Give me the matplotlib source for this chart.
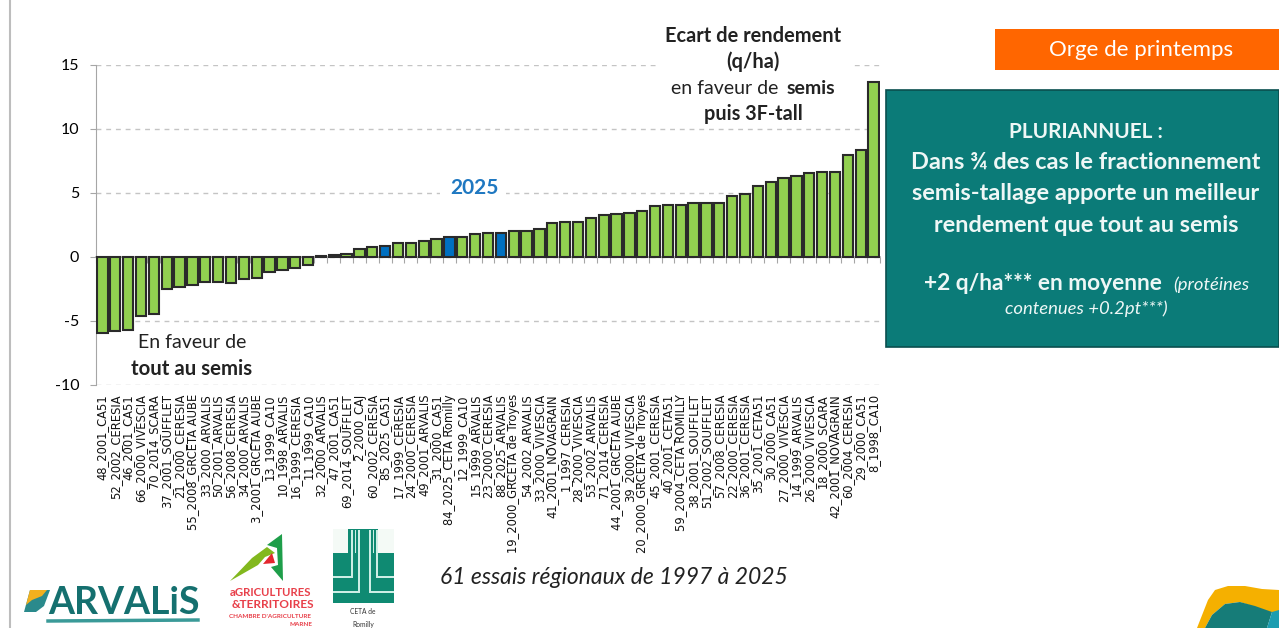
import matplotlib
matplotlib.use("Agg")
import matplotlib.pyplot as plt
from matplotlib.patches import Polygon, Rectangle

W, H = 1279, 628

labels = ["48_2001_CA51", "52_2002_CERESIA", "46_2001_CA51", "66_2000_VIVESCIA", "70_2014_SCARA",
          "37_2001_SOUFFLET", "21_2000_CERESIA", "55_2008_GRCETA AUBE", "33_2000_ARVALIS", "50_2001_ARVALIS",
          "56_2008_CERESIA", "34_2000_ARVALIS", "3_2001_GRCETA AUBE", "13_1999_CA10", "10_1998_ARVALIS",
          "16_1999_CERESIA", "11_1999_CA10", "32_2000_ARVALIS", "47_2001_CA51", "69_2014_SOUFFLET",
          "2_2000_CAJ", "60_2002_CERESIA", "85_2025_CA51", "17_1999_CERESIA", "24_2000_CERESIA",
          "49_2001_ARVALIS", "31_2000_CA51", "84_2025_CETA Romilly", "12_1999_CA10", "15_1999_ARVALIS",
          "23_2000_CERESIA", "88_2025_ARVALIS", "19_2000_GRCETA de Troyes", "54_2002_ARVALIS", "33_2000_VIVESCIA",
          "41_2001_NOVAGRAIN", "1_1997_CERESIA", "28_2000_VIVESCIA", "53_2002_ARVALIS", "71_2014_CERESIA",
          "44_2001_GRCETA AUBE", "39_2000_VIVESCIA", "20_2000_GRCETA de Troyes", "45_2001_CERESIA", "40_2001_CETA51",
          "59_2004_CETA ROMILLY", "38_2001_SOUFFLET", "51_2002_SOUFFLET", "57_2008_CERESIA", "22_2000_CERESIA",
          "36_2001_CERESIA", "35_2001_CETA51", "30_2000_CA51", "27_2000_VIVESCIA", "14_1999_ARVALIS",
          "26_2000_VIVESCIA", "18_2000_SCARA", "42_2001_NOVAGRAIN", "60_2004_CERESIA", "29_2000_CA51",
          "8_1998_CA10"]
values = [-5.9, -5.8, -5.7, -4.6, -4.45, -2.5, -2.35, -2.2, -1.95, -1.95,
          -2.0, -1.7, -1.65, -1.2, -1.05, -0.85, -0.65, 0.1, 0.15, 0.2,
          0.65, 0.8, 0.85, 1.1, 1.1, 1.28, 1.38, 1.55, 1.55, 1.8,
          1.85, 1.9, 2.03, 2.05, 2.16, 2.66, 2.76, 2.76, 3.07, 3.25,
          3.33, 3.46, 3.6, 3.98, 4.06, 4.06, 4.2, 4.2, 4.2, 4.74,
          4.9, 5.57, 5.86, 6.15, 6.33, 6.54, 6.67, 6.67, 7.94, 8.36,
          13.67]
highlight = ["85_2025_CA51", "84_2025_CETA Romilly", "88_2025_ARVALIS"]
yticks = [-10, -5, 0, 5, 10, 15]

plt.rcParams["font.family"] = ["Lato", "DejaVu Sans"]
plt.rcParams["axes.unicode_minus"] = False
fig = plt.figure(figsize=(W / 100, H / 100), dpi=100)

# overlay in pixel coordinates for the slide furniture
bg = fig.add_axes([0, 0, 1, 1], zorder=0)
bg.set_xlim(0, W); bg.set_ylim(H, 0); bg.axis("off")
bg.plot([10, 10], [0, H], color="#bdbdbd", lw=1.5)

ax = fig.add_axes([96 / W, 1 - 385 / H, 784 / W, 320 / H], zorder=1)
ax.patch.set_alpha(0)
colors = ["#0070C0" if l in highlight else "#92D050" for l in labels]
ax.bar(range(len(values)), values, width=0.8, color=colors, edgecolor="#2a2a2a", linewidth=1.5, zorder=3)
ax.set_xlim(-0.5, len(values) - 0.5)
ax.set_ylim(-10, 15)
ax.set_yticks(yticks)
ax.tick_params(axis="y", length=4, color="#a6a6a6", labelsize=11.5, pad=8)
ax.grid(axis="y", color="#c4c4c4", linestyle=(0, (3.5, 3.5)), linewidth=1, zorder=0)
ax.set_axisbelow(True)
for s in ("top", "right"):
    ax.spines[s].set_visible(False)
ax.spines["left"].set_color("#a6a6a6")
ax.spines["bottom"].set_position(("data", 0))
ax.spines["bottom"].set_color("#a6a6a6")
ax.spines["bottom"].set_linewidth(1.2)
ax.set_xticks([i - 0.5 for i in range(len(values) + 1)])
ax.tick_params(axis="x", length=4, color="#a6a6a6", labelbottom=False)
for i, l in enumerate(labels):
    ax.annotate(l, (i, -10), xytext=(0, -9), textcoords="offset pixels", rotation=90, ha="center", va="top",
                fontsize=8.3, family="DejaVu Sans", color="#111111", annotation_clip=False)

# annotations, white boxes hide the gridlines like in the slide
over = fig.add_axes([0, 0, 1, 1], zorder=2)
over.set_xlim(0, W); over.set_ylim(H, 0); over.axis("off")
over.add_patch(Rectangle((656, 25), 196, 103, color="white", lw=0))
over.add_patch(Rectangle((440, 170), 66, 40, color="white", lw=0))
over.text(753, 36, "Ecart de rendement", ha="center", va="center", fontsize=14.4, weight="bold", color="#222222")
over.text(753, 62, "(q/ha)", ha="center", va="center", fontsize=14.4, weight="bold", color="#222222")
over.text(725, 88, "en faveur de", ha="center", va="center", fontsize=14, color="#222222")
over.text(811, 88, "semis", ha="center", va="center", fontsize=14, weight="bold", color="#222222")
over.text(753, 114, "puis 3F-tall", ha="center", va="center", fontsize=14.2, weight="bold", color="#222222")
over.text(474, 188, "2025", ha="center", va="center", fontsize=15, weight="bold", color="#1f78c1")
over.text(192, 342, "En faveur de", ha="center", va="center", fontsize=14, color="#222222")
over.text(192, 369, "tout au semis", ha="center", va="center", fontsize=14.7, weight="bold", color="#222222")
over.text(614, 578, "61 essais régionaux de 1997 à 2025", ha="center", va="center", fontsize=16.5, style="italic", color="#222222")

# orange title and teal message box
over.add_patch(Rectangle((995, 29), 284, 41, color="#FF6600", lw=0))
over.text(1141, 50, "Orge de printemps", ha="center", va="center", fontsize=16, color="white")
over.add_patch(Rectangle((886, 90), 393, 257, facecolor="#0B7B78", edgecolor="#0a4f4f", lw=1.2))
over.text(1086, 132, "PLURIANNUEL :", ha="center", va="center", fontsize=15, weight="bold", color="#eef7f6")
box_lines = [("Dans ¾ des cas le fractionnement", 162), ("semis-tallage apporte un meilleur", 194),
             ("rendement que tout au semis", 226)]
for txt, y in box_lines:
    over.text(1086, y, txt, ha="center", va="center", fontsize=16.9, weight="bold", color="#eef7f6")
over.text(1043, 283, "+2 q/ha*** en moyenne", ha="center", va="center", fontsize=16.4, weight="bold", color="#eef7f6")
over.text(1211, 285, "(protéines", ha="center", va="center", fontsize=13.3, style="italic", color="#eef7f6")
over.text(1086, 309, "contenues +0.2pt***)", ha="center", va="center", fontsize=13.3, style="italic", color="#eef7f6")

# logos, simplified
over.add_patch(Polygon([(30, 590), (50, 590), (44, 606), (36, 612), (24, 612)], color="#2a8a8c", lw=0))
over.add_patch(Polygon([(30, 590), (47, 590), (42, 596), (32, 600), (26, 605)], color="#f2b01e", lw=0))
over.text(124, 603, "ARVALiS", ha="center", va="center", fontsize=27, weight="bold", color="#15706f")
over.plot([48, 198], [621, 620], color="#3a9a98", lw=2.5)
over.add_patch(Polygon([(230, 581), (252, 558), (267, 547), (275, 553), (265, 557), (258, 565)], color="#82b81e", lw=0))
over.add_patch(Polygon([(267, 545), (282, 534), (283, 581), (271, 567), (278, 565), (277, 548)], color="#1e9e4a", lw=0))
over.add_patch(Polygon([(263, 564), (272, 553), (275, 563)], color="#e3262e", lw=0))
over.text(271, 592, "aGRICULTURES", ha="center", va="center", fontsize=8.2, weight="bold", color="#e8404a")
over.text(273, 605, "&TERRITOIRES", ha="center", va="center", fontsize=8.6, weight="bold", color="#e8404a")
over.text(270, 616, "CHAMBRE D'AGRICULTURE", ha="center", va="center", fontsize=4.6, weight="bold", color="#e8404a")
over.text(301, 625, "MARNE", ha="center", va="center", fontsize=4.6, weight="bold", color="#e8404a")

over.add_patch(Rectangle((333, 529), 61, 74, color="#0f8a72", lw=0))
over.add_patch(Rectangle((333, 529), 15, 24, color="#f4faf6", lw=0))
over.add_patch(Rectangle((378, 529), 16, 24, color="#f4faf6", lw=0))
for x0, x1, y0, y1 in [(351, 352.5, 530, 577), (358, 359.5, 530, 592), (369, 370.5, 530, 592), (376, 377.5, 530, 577),
                       (354.5, 355.5, 530, 553), (372.5, 373.5, 530, 553), (333, 352.5, 576, 577.5), (376, 394, 576, 577.5),
                       (333, 359.5, 591, 592.5), (369, 394, 591, 592.5)]:
    over.add_patch(Rectangle((x0, y0), x1 - x0, y1 - y0, color="#cdeee5", lw=0))
over.text(363, 612, "CETA de", ha="center", va="center", fontsize=4.8, color="#333333")
over.text(363, 624, "Romilly", ha="center", va="center", fontsize=4.8, color="#333333")

# corner logo
over.add_patch(Polygon([(1197, 628), (1208, 600), (1215, 590), (1228, 586), (1245, 586), (1262, 589), (1279, 590),
                        (1279, 612), (1270, 612), (1240, 602), (1225, 604), (1212, 615), (1205, 628)], color="#F5B000", lw=0))
over.add_patch(Polygon([(1205, 628), (1212, 615), (1225, 604), (1240, 602), (1255, 606), (1272, 612), (1267, 628)], color="#167C78", lw=0))
over.add_patch(Polygon([(1267, 628), (1272, 612), (1279, 610), (1279, 628)], color="#1C9DB0", lw=0))

fig.savefig("out.png", dpi=100)
